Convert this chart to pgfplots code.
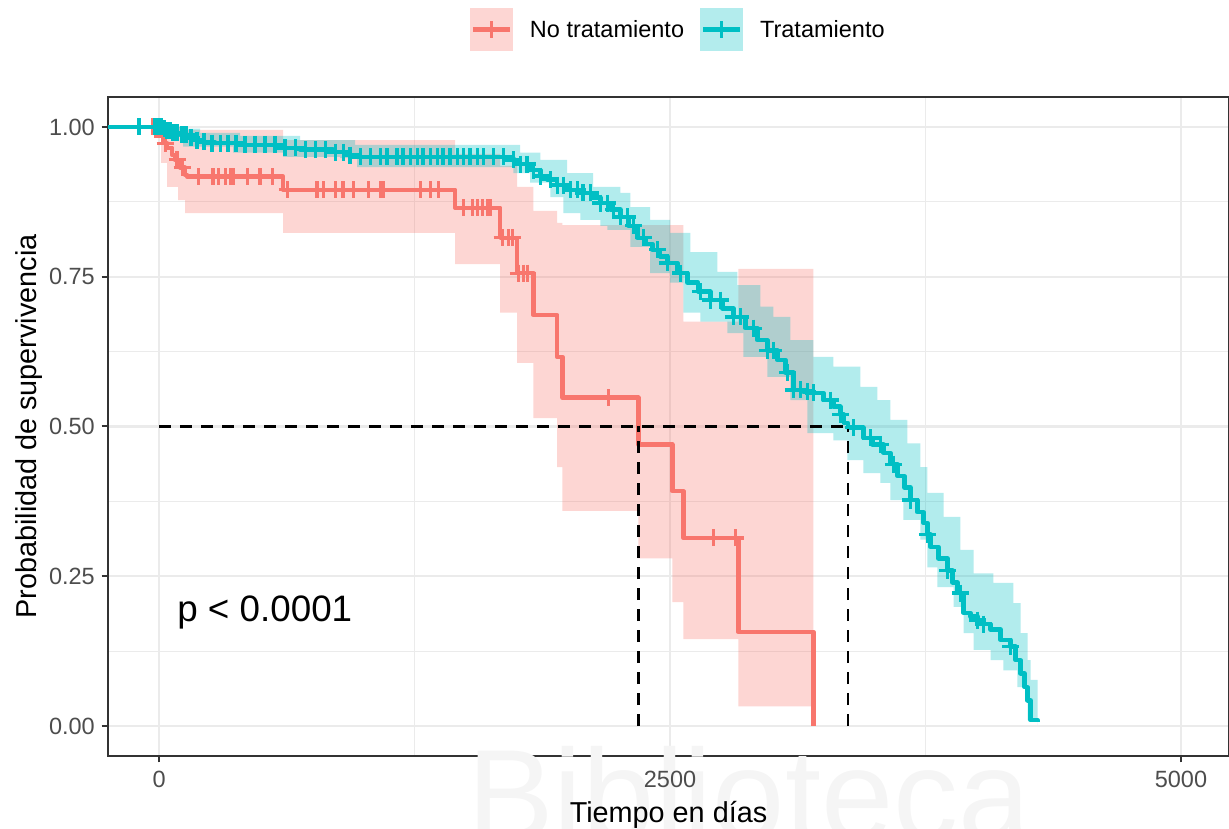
\documentclass[border=0pt]{standalone}
\usepackage{fontspec}
\setmainfont{Liberation Sans}
\usepackage{pgfplots}
\pgfplotsset{compat=1.18}
\usepgfplotslibrary{fillbetween}

\definecolor{nocol}{HTML}{F8766D}
\definecolor{sicol}{HTML}{00BFC4}
\definecolor{nofill}{HTML}{FDD6D3}
\definecolor{sifill}{HTML}{B3ECED}
\definecolor{gridcol}{HTML}{EBEBEB}
\definecolor{framecol}{HTML}{333333}
\definecolor{tickcol}{HTML}{4D4D4D}
\definecolor{wmcol}{HTML}{F5F5F5}

\newcommand\ticksize{\fontsize{23.5}{28}\selectfont}
\newcommand\titlesize{\fontsize{28.8}{34}\selectfont}

\begin{document}
\begin{tikzpicture}
\begin{scope}
  \clip (0pt,0pt) rectangle (1229pt,829pt);
  \node[anchor=base west, inner sep=0pt, text=wmcol,
        font=\fontsize{130}{130}\selectfont] at (467pt,-12pt) {Biblioteca};
\end{scope}
\begin{axis}[
  at={(108pt,73pt)}, anchor=south west,
  width=1121pt, height=659pt, scale only axis,
  xmin=-250, xmax=5235, ymin=-0.05, ymax=1.05,
  xtick={0,2500,5000}, xticklabels={0,2500,5000},
  ytick={0,0.25,0.5,0.75,1}, yticklabels={0.00,0.25,0.50,0.75,1.00},
  minor xtick={1250,3750}, minor ytick={0.125,0.375,0.625,0.875},
  grid=both,
  major grid style={line width=2.2pt, color=gridcol},
  minor grid style={line width=1.1pt, color=gridcol},
  tick align=outside, major tick length=6.5pt, minor tick length=0pt,
  xtick pos=bottom, ytick pos=left,
  tick style={line width=2pt, color=framecol},
  axis line style={line width=2pt, color=framecol},
  /pgf/number format/assume math mode=true,
  ticklabel style={font=\ticksize, text=tickcol, inner sep=0pt},
  xticklabel style={anchor=north, yshift=-8.5pt},
  yticklabel style={anchor=east, xshift=-6.5pt},
  xlabel={Tiempo en días},
  xlabel style={at={(axis description cs:0.5,-0.1002)}, anchor=base, inner sep=0pt, font=\titlesize},
  ylabel={Probabilidad de supervivencia},
  ylabel style={at={(axis description cs:-0.0642,0.5)}, anchor=base, inner sep=0pt, font=\titlesize},
  legend columns=2,
  legend cell align=left,
  legend style={at={(axis description cs:0.3229,1.1351)}, anchor=north west,
    draw=none, fill=none, inner sep=0pt, outer sep=0pt, font=\ticksize,
    nodes={inner sep=0pt},
    /tikz/every odd column/.append style={column sep=17pt},
    /tikz/every even column/.append style={column sep=16pt}},
]

% legend keys: shaded band with the line and a censoring cross
\addlegendimage{legend image code/.code={
  \path[fill=nofill, draw=none] (0pt,-21.5pt) rectangle (43pt,21.5pt);
  \path[draw=nocol, line width=4.5pt] (3pt,0pt) -- (40pt,0pt);
  \path[draw=nocol, line width=3.2pt] (21.5pt,-8.5pt) -- (21.5pt,8.5pt);}}
\addlegendentry{No tratamiento}
\addlegendimage{legend image code/.code={
  \path[fill=sifill, draw=none] (0pt,-21.5pt) rectangle (43pt,21.5pt);
  \path[draw=sicol, line width=4.5pt] (3pt,0pt) -- (40pt,0pt);
  \path[draw=sicol, line width=3.2pt] (21.5pt,-8.5pt) -- (21.5pt,8.5pt);}}
\addlegendentry{Tratamiento}

% confidence band, No tratamiento
\addplot[const plot, draw=none, name path=rupper, forget plot] coordinates {
 (-34,1.0) (127,0.995) (607,0.978) (1449,0.955) (1669,0.935) (1752,0.90)
 (1831,0.86) (1948,0.84) (1973,0.836) (2565,0.675) (2834,0.763) (3201,0.763)};
\addplot[const plot, draw=none, name path=rlower, forget plot] coordinates {
 (-34,1.0) (10,0.94) (39,0.90) (93,0.878) (127,0.856) (607,0.823) (1449,0.771)
 (1669,0.69) (1752,0.606) (1831,0.514) (1948,0.432) (1973,0.359) (2345,0.28)
 (2511,0.207) (2565,0.145) (2834,0.033) (3201,0.033)};
\addplot[fill=nocol, fill opacity=0.3, draw=none, forget plot] fill between[of=rupper and rlower];

% confidence band, Tratamiento
\addplot[const plot, draw=none, name path=tupper, forget plot] coordinates {
 (-250,1.0) (103,0.997) (201,0.99) (396,0.985) (690,0.978) (959,0.970)
 (1767,0.957) (1865,0.945) (1997,0.923) (2124,0.90) (2257,0.89) (2306,0.866)
 (2403,0.845) (2501,0.823) (2599,0.791) (2731,0.758) (2829,0.736) (2942,0.700)
 (3006,0.683) (3089,0.644) (3201,0.616) (3299,0.600) (3431,0.566) (3515,0.544)
 (3578,0.511) (3661,0.472) (3725,0.432) (3759,0.389) (3838,0.349) (3921,0.294)
 (3985,0.255) (4082,0.239) (4180,0.205) (4215,0.155) (4249,0.110) (4264,0.077)
 (4298,0.077)};
\addplot[const plot, draw=none, name path=tlower, forget plot] coordinates {
 (-250,1.0) (20,0.99) (117,0.967) (362,0.957) (607,0.95) (886,0.948) (969,0.933)
 (1733,0.923) (1816,0.907) (1914,0.883) (1978,0.856) (2061,0.845) (2159,0.835)
 (2193,0.828) (2306,0.800) (2403,0.756) (2501,0.740) (2565,0.690) (2648,0.675)
 (2780,0.656) (2859,0.616) (2976,0.583) (3089,0.544) (3172,0.489) (3299,0.477)
 (3368,0.444) (3446,0.422) (3529,0.406) (3578,0.377) (3642,0.344) (3725,0.311)
 (3759,0.265) (3808,0.232) (3887,0.199) (3936,0.155) (3985,0.127) (4068,0.110)
 (4131,0.093) (4200,0.065) (4249,0.010) (4298,0.002)};
\addplot[fill=sicol, fill opacity=0.3, draw=none, forget plot] fill between[of=tupper and tlower];

% Kaplan-Meier curve, No tratamiento
\addplot[const plot, nocol, line width=4.5pt, line join=round, forget plot] coordinates {
 (-34,1.0) (10,0.985) (25,0.973) (39,0.965) (64,0.953) (78,0.945) (103,0.932)
 (127,0.92) (137,0.917) (607,0.895) (1449,0.865) (1669,0.815) (1752,0.756)
 (1831,0.686) (1948,0.616) (1973,0.548) (2345,0.470) (2511,0.392) (2565,0.314)
 (2834,0.157) (3201,0.0)};

% Kaplan-Meier curve, Tratamiento
\addplot[const plot, sicol, line width=4.5pt, line join=round, forget plot] coordinates {
 (-250,1.0) (20,0.997) (39,0.994) (64,0.99) (103,0.987) (137,0.982) (176,0.978)
 (201,0.975) (274,0.973) (396,0.970) (578,0.965) (690,0.962) (852,0.958)
 (910,0.953) (959,0.950) (1708,0.947) (1733,0.945) (1767,0.938) (1816,0.928)
 (1865,0.918) (1899,0.912) (1948,0.903) (1997,0.895) (2075,0.890) (2120,0.882)
 (2159,0.873) (2208,0.862) (2257,0.850) (2296,0.835) (2340,0.815) (2379,0.805)
 (2413,0.795) (2452,0.784) (2487,0.773) (2536,0.756) (2585,0.740) (2638,0.725)
 (2697,0.711) (2756,0.697) (2810,0.683) (2868,0.664) (2927,0.644) (2976,0.627)
 (3025,0.611) (3064,0.590) (3103,0.561) (3152,0.558) (3201,0.556) (3250,0.544)
 (3299,0.533) (3333,0.520) (3350,0.506) (3371,0.498) (3446,0.481) (3490,0.470)
 (3544,0.456) (3578,0.437) (3613,0.417) (3647,0.398) (3676,0.377) (3710,0.357)
 (3740,0.339) (3759,0.320) (3774,0.299) (3813,0.280) (3857,0.260) (3882,0.240)
 (3906,0.222) (3936,0.189) (3970,0.183) (4004,0.177) (4033,0.170) (4068,0.161)
 (4117,0.144) (4166,0.133) (4190,0.110) (4215,0.088) (4234,0.065) (4249,0.043)
 (4264,0.010) (4298,0.007)};

% censored observations, No tratamiento
\addplot[only marks, mark=+, mark size=8.5pt, nocol, mark options={line width=3.2pt}, forget plot] coordinates {
 (-34,1.0) (15,0.985) (30,0.973) (88,0.945) (113,0.932)
 (191,0.917) (264,0.917) (289,0.917) (323,0.917) (348,0.917) (362,0.917)
 (431,0.917) (494,0.917) (553,0.917)
 (627,0.895) (773,0.895) (803,0.895) (862,0.895) (896,0.895) (901,0.895)
 (950,0.895) (1023,0.895) (1082,0.895) (1096,0.895) (1278,0.895) (1327,0.895)
 (1366,0.895)
 (1488,0.865) (1532,0.865) (1557,0.865) (1581,0.865) (1606,0.865) (1620,0.865)
 (1679,0.815) (1708,0.815) (1728,0.815)
 (1757,0.756) (1782,0.756) (1801,0.756)
 (2198,0.548) (2712,0.314) (2820,0.314)};

% censored observations, Tratamiento
\addplot[only marks, mark=+, mark size=8.5pt, sicol, mark options={line width=3.4pt}, forget plot] coordinates {
 (-98,1.0) (-20,1.0) (-5,1.0) (10,1.0) (25,0.997) (39,0.994) (54,0.994)
 (69,0.99) (88,0.99) (113,0.987) (132,0.987) (157,0.982) (186,0.978)
 (220,0.975) (259,0.973) (299,0.973) (338,0.973) (377,0.973) (421,0.970)
 (470,0.970) (519,0.970) (568,0.970) (617,0.965) (666,0.965) (715,0.962)
 (764,0.962) (813,0.962) (862,0.958) (901,0.958) (935,0.953) (984,0.95)
 (1033,0.95) (1082,0.95) (1116,0.95) (1165,0.95) (1194,0.95) (1229,0.95)
 (1263,0.95) (1292,0.95) (1327,0.95) (1361,0.95) (1390,0.95) (1424,0.95)
 (1459,0.95) (1488,0.95) (1522,0.95) (1557,0.95) (1586,0.95) (1635,0.95)
 (1684,0.95)
 (1733,0.945) (1767,0.938) (1801,0.938) (1831,0.928) (1865,0.918) (1914,0.912)
 (1948,0.903) (1978,0.903) (2012,0.895) (2046,0.895) (2075,0.890) (2110,0.890)
 (2159,0.873) (2193,0.873) (2223,0.862) (2257,0.850) (2291,0.850) (2320,0.835)
 (2369,0.815) (2438,0.795) (2487,0.773) (2550,0.756) (2648,0.725) (2697,0.711)
 (2746,0.711) (2810,0.683) (2844,0.683) (2907,0.664) (2976,0.627) (3006,0.627)
 (3074,0.590) (3103,0.561) (3138,0.561) (3172,0.558) (3201,0.556) (3285,0.544)
 (3333,0.520) (3397,0.498) (3481,0.481) (3529,0.470) (3593,0.437) (3676,0.377)
 (3759,0.320) (3857,0.260) (3921,0.222) (4004,0.177) (4033,0.170) (4166,0.133)};

% median survival times
\addplot[black, line width=2.3pt, dash pattern=on 12pt off 9pt, forget plot] coordinates {(0,0.5) (3371,0.5)};
\addplot[black, line width=2.3pt, dash pattern=on 12pt off 9pt, forget plot] coordinates {(2345,0) (2345,0.5)};
\addplot[black, line width=2.3pt, dash pattern=on 12pt off 9pt, forget plot] coordinates {(3371,0) (3371,0.5)};

\node[anchor=base west, inner sep=0pt, font=\fontsize{36.8}{40}\selectfont] at (axis cs:88,0.1753) {p < 0.0001};
\end{axis}
\pgfresetboundingbox
\path[use as bounding box] (0pt,0pt) rectangle (1229pt,829pt);
\end{tikzpicture}
\end{document}
